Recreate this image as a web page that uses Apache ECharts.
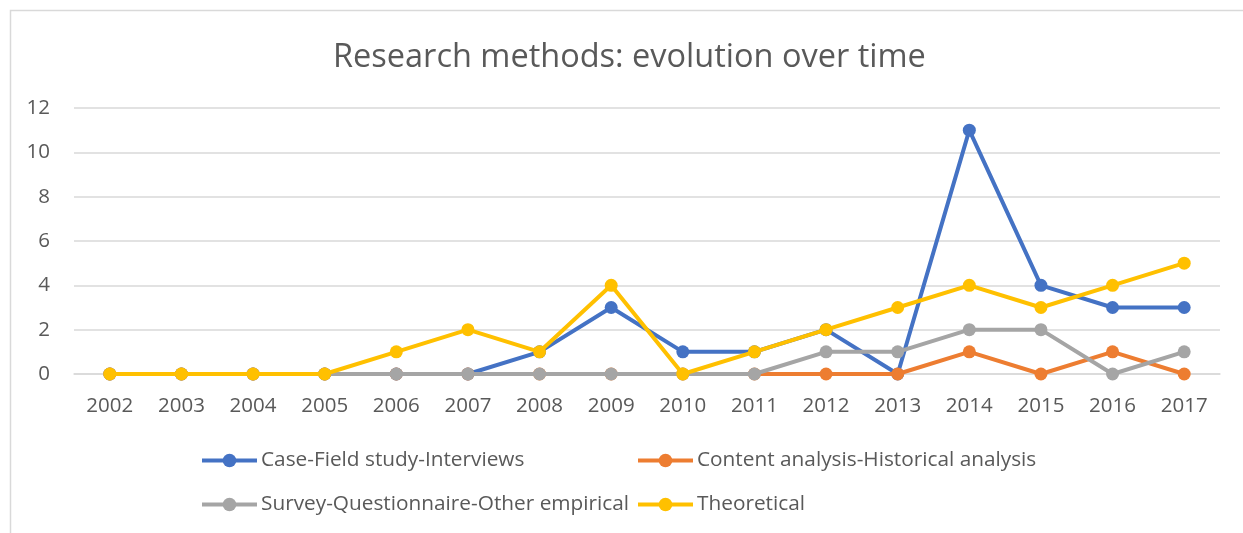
<!DOCTYPE html>
<html>
<head>
<meta charset="utf-8">
<script src="https://cdn.jsdelivr.net/npm/echarts@6/dist/echarts.min.js"></script>
<style>
html,body{margin:0;padding:0;background:#fff;}
#c{width:1243px;height:533px;}
</style>
</head>
<body>
<div id="c"></div>
<script>
var years = ['2002','2003','2004','2005','2006','2007','2008','2009','2010','2011','2012','2013','2014','2015','2016','2017'];
var caseField = [0,0,0,0,0,0,1,3,1,1,2,0,11,4,3,3];
var contentAnalysis = [0,0,0,0,0,0,0,0,0,0,0,0,1,0,1,0];
var survey = [0,0,0,0,0,0,0,0,0,0,1,1,2,2,0,1];
var theoretical = [0,0,0,0,1,2,1,4,0,1,2,3,4,3,4,5];
var seriesNames = ['Case-Field study-Interviews','Content analysis-Historical analysis','Survey-Questionnaire-Other empirical','Theoretical'];
var colors = ['#4472C4','#ED7D31','#A5A5A5','#FFC000'];
var seriesData = [caseField, contentAnalysis, survey, theoretical];

var FONT = 'Open Sans';
var chart = echarts.init(document.getElementById('c'), null, {renderer:'canvas'});
var legendPos = [[200,450],[636,450],[200,494],[636,494]];
var option = {
  animation:false,
  color: colors,
  textStyle:{fontFamily:FONT},
  graphic:[
    {type:'rect',shape:{x:10.5,y:10.5,width:1300,height:600},style:{fill:'none',stroke:'#D9D9D9',lineWidth:1.5},silent:true,z:-10}
  ],
  title:{text:'Research methods: evolution over time',left:333,top:41,padding:0,
    textStyle:{fontFamily:FONT,fontSize:32.5,fontWeight:'normal',color:'#595959'}},
  legend: seriesNames.map(function(n,i){return {
    data:[n],left:legendPos[i][0],top:legendPos[i][1],padding:0,itemWidth:55,itemHeight:17,itemGap:0,
    lineStyle:{width:4},
    textStyle:{fontFamily:FONT,fontSize:20.8,color:'#595959',padding:[0,0,0,-1]}
  };}),
  grid:{left:74,right:23,top:108,bottom:159,containLabel:false},
  xAxis:{type:'category',data:years,boundaryGap:true,
    axisLine:{show:true,lineStyle:{color:'#D9D9D9',width:1.5}},
    axisTick:{show:false},
    axisLabel:{fontFamily:FONT,fontSize:20.5,color:'#595959',margin:22}},
  yAxis:{type:'value',min:0,max:12,interval:2,
    axisLine:{show:false},axisTick:{show:false},
    splitLine:{lineStyle:{color:'#D9D9D9',width:1.5}},
    axisLabel:{fontFamily:FONT,fontSize:20.5,color:'#595959',margin:24}},
  series: seriesData.map(function(d,i){return {
    name:seriesNames[i],type:'line',data:d,symbol:'circle',symbolSize:13,
    lineStyle:{width:4,color:colors[i]},itemStyle:{color:colors[i]},z:2+i
  };})
};
chart.setOption(option);
</script>
</body>
</html>
